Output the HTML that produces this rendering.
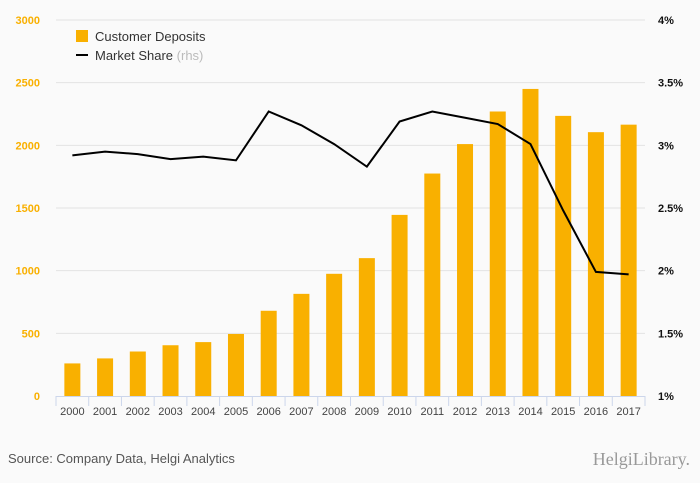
<!DOCTYPE html>
<html><head><meta charset="utf-8"><style>
body{margin:0;background:#fafafa;font-family:"Liberation Sans","DejaVu Sans",sans-serif}
svg{display:block}
</style></head><body>
<svg id="c" width="700" height="483">
<rect width="700" height="483" fill="#fafafa"/>
<g id="grid"></g><g id="bars"></g><g id="line"></g><g id="axes"></g>
<g>
<rect x="76" y="30" width="12" height="12" fill="#f9b000"/>
<text x="95" y="41" font-size="13" fill="#333">Customer Deposits</text>
<line x1="76" y1="55" x2="88" y2="55" stroke="#000" stroke-width="2"/>
<text x="95" y="60" font-size="13" fill="#333">Market Share <tspan fill="#bbb">(rhs)</tspan></text>
</g>
<text x="8" y="463" font-size="13" fill="#555">Source: Company Data, Helgi Analytics</text>
<text x="690" y="465" font-size="18" fill="#999" text-anchor="end" font-family="Liberation Serif,serif">HelgiLibrary.</text>
</svg>
<script>
const years=["2000","2001","2002","2003","2004","2005","2006","2007","2008","2009","2010","2011","2012","2013","2014","2015","2016","2017"];
const deposits=[260,300,355,405,430,495,680,815,975,1100,1445,1775,2010,2270,2450,2235,2105,2165];
const share=[2.92,2.95,2.93,2.89,2.91,2.88,3.27,3.16,3.01,2.83,3.19,3.27,3.22,3.17,3.01,2.48,1.99,1.97];
const leftTicks=[0,500,1000,1500,2000,2500,3000];
const rightTicks=[1,1.5,2,2.5,3,3.5,4];
const rightLabels=["1%","1.5%","2%","2.5%","3%","3.5%","4%"];
const NS="http://www.w3.org/2000/svg";
const x0=56,x1=645,yb=396,yt=20;
const bw=(x1-x0)/years.length;
const xC=i=>x0+bw*(i+0.5);
const yL=v=>yb-(v/3000)*(yb-yt);
const yR=v=>yb-((v-1)/3)*(yb-yt);
function mk(t,a,p){const e=document.createElementNS(NS,t);for(const k in a)e.setAttribute(k,a[k]);p.appendChild(e);return e;}
const G=document.getElementById('grid'),B=document.getElementById('bars'),L=document.getElementById('line'),A=document.getElementById('axes');
leftTicks.forEach((v,i)=>{
 if(v>0){const g=mk('line',{x1:x0,x2:x1,y1:yL(v),y2:yL(v),stroke:'#e3e3e3'},G);
 
 }
 const t=mk('text',{x:40,y:yL(v)+4,'font-size':11,'font-weight':'bold',fill:'#f9b000','text-anchor':'end'},A);t.textContent=v;
 
 
});
rightTicks.forEach((v,i)=>{
 const t=mk('text',{x:658,y:yR(v)+4,'font-size':11,'font-weight':'bold',fill:'#111'},A);t.textContent=rightLabels[i];
 
 
});
mk('line',{x1:x0,x2:x1,y1:yb+0.5,y2:yb+0.5,stroke:'#ccd6eb'},A);
for(let i=0;i<=years.length;i++){mk('line',{x1:x0+bw*i,x2:x0+bw*i,y1:yb,y2:yb+10,stroke:'#ccd6eb'},A);}
years.forEach((y,i)=>{
 const r=mk('rect',{x:xC(i)-8,y:yL(deposits[i]),width:16,height:yb-yL(deposits[i]),fill:'#f9b000'},B);
 
 
 const t=mk('text',{x:xC(i),y:yb+19,'font-size':11,fill:'#444','text-anchor':'middle'},A);t.textContent=y;
 
 
});
const p=mk('path',{d:share.map((v,i)=>(i?'L':'M')+xC(i)+' '+yR(v)).join(' '),fill:'none',stroke:'#000','stroke-width':2},L);


</script>
</body></html>
